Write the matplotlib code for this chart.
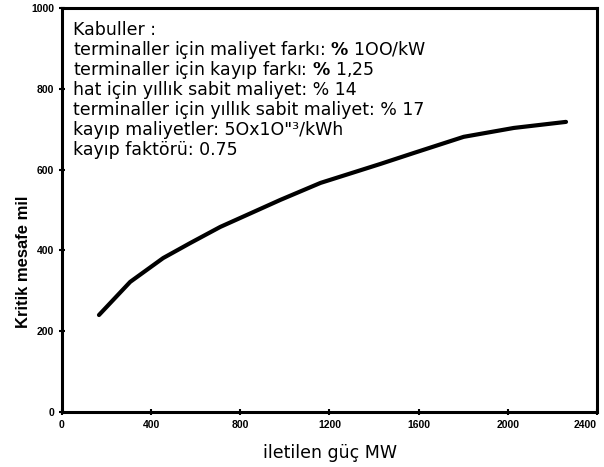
import matplotlib
matplotlib.use("Agg")
import matplotlib.pyplot as plt

plt.rcParams['font.family'] = ['Liberation Sans', 'DejaVu Sans']
plt.rcParams['mathtext.fontset'] = 'dejavusans'

# curve (power MW, critical distance mi)
power_mw = [166, 306, 454, 575, 710, 831, 980, 1160, 1429, 1578, 1802, 2027, 2261]
crit_dist = [240, 322, 381, 418, 458, 488, 525, 567, 614, 641, 681, 703, 718]

x_ticks = [0, 400, 800, 1200, 1600, 2000, 2400]
y_ticks = [0, 200, 400, 600, 800, 1000]

notes = [
    "Kabuller :",
    r"terminaller için maliyet farkı: $\mathbf{\%}$ 1OO/kW",
    r"terminaller için kayıp farkı: $\mathbf{\%}$ 1,25",
    "hat için yıllık sabit maliyet: % 14",
    "terminaller için yıllık sabit maliyet: % 17",
    "kayıp maliyetler: 5Ox1O\"³/kWh",
    "kayıp faktörü: 0.75",
]

fig = plt.figure(figsize=(6.04, 4.67), dpi=100)
ax = fig.add_axes([0.1026, 0.1178, 0.8858, 0.8652])

ax.plot(power_mw, crit_dist, color='black', lw=3.0, solid_capstyle='round')

ax.set_xlim(0, 2400)
ax.set_ylim(0, 1000)
ax.set_xticks(x_ticks)
ax.set_yticks(y_ticks)
ax.tick_params(direction='inout', length=5, width=1.5, labelsize=7.5, pad=3)
for lab in ax.get_xticklabels() + ax.get_yticklabels():
    lab.set_fontweight('bold')
ax.get_xticklabels()[-1].set_horizontalalignment('right')
for sp in ax.spines.values():
    sp.set_linewidth(2.2)

fig.text(330 / 604, 1 - 458 / 467, "iletilen güç MW", fontsize=12.5,
         family='DejaVu Sans', ha='center', va='baseline')
fig.text(24 / 604, 1 - 262 / 467, "Kritik mesafe mil", fontsize=12,
         fontweight='bold', rotation=90, ha='center', va='center')

for i, line in enumerate(notes):
    fig.text(73 / 604, 1 - (35 + i * 20) / 467, line, fontsize=12.5,
             family='DejaVu Sans', va='baseline', ha='left')

fig.savefig("out.png", dpi=100)
